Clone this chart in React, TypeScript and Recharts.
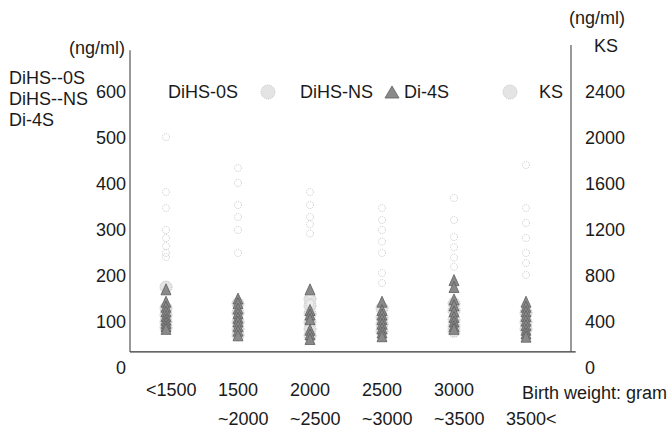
import { ScatterChart, Scatter, XAxis, YAxis, ReferenceLine } from 'recharts'

const FONT = '"Liberation Sans", Arial, Helvetica, sans-serif'
const INK = '#1a1a1a'
const FS = 18

// birth weight groups (gram), printed on two rows under the axis
const weightTop = ['<1500', '1500', '2000', '2500', '3000', '']
const weightBottom = ['', '~2000', '~2500', '~3000', '~3500', '3500<']

const leftTicks = [0, 100, 200, 300, 400, 500, 600]
const rightTicks = [0, 400, 800, 1200, 1600, 2000, 2400]

// ng/ml, one list per weight group
const dihs0s = [
  [176, 130, 115, 100, 88],
  [140, 120, 100, 85, 72],
  [150, 135, 118, 100, 85, 70],
  [130, 110, 95, 80],
  [140, 125, 105, 90, 80],
  [120, 100, 85],
]
const dihsNs = [
  [120, 95],
  [135, 110, 90],
  [160, 140, 95],
  [120, 100, 88],
  [115, 95],
  [110, 90],
]
const di4s = [
  [170, 143, 132, 122, 112, 104, 97, 90, 84],
  [150, 140, 128, 118, 108, 100, 90, 80, 70],
  [170, 125, 115, 105, 82, 72, 62],
  [143, 125, 115, 105, 95, 85, 76, 68],
  [190, 175, 148, 135, 122, 110, 100, 90, 84],
  [143, 132, 122, 112, 102, 92, 82, 74, 67],
]
// KS on the right axis
const ks = [
  [2008, 1530, 1391, 1200, 1130, 1060, 1000, 965],
  [1739, 1609, 1417, 1313, 1200, 1000],
  [1530, 1417, 1313, 1250, 1170],
  [1391, 1287, 1200, 1100, 1000, 826, 739],
  [1478, 1287, 1139, 1050, 960, 880],
  [1765, 1391, 1261, 1130, 1000, 913, 809],
]

const toPoints = (cols: number[][]) =>
  cols.flatMap((vals, i) => vals.map((v) => ({ x: i, y: v })))

const circleShape = (p: any) => (
  <circle cx={p.cx} cy={p.cy} r={6} fill="#e4e4e4" stroke="#bdbdbd" strokeWidth={1} strokeDasharray="1 1" />
)
const smallCircleShape = (p: any) => (
  <circle cx={p.cx} cy={p.cy} r={4} fill="#ececec" stroke="#c6c6c6" strokeWidth={1} strokeDasharray="1 1" />
)
const triangleShape = (p: any) => (
  <path
    d={`M${p.cx},${p.cy - 6} L${p.cx + 5},${p.cy + 5} L${p.cx - 5},${p.cy + 5} Z`}
    fill="#8a8a8a"
    stroke="#5e5e5e"
    strokeWidth={0.8}
  />
)
const ksShape = (p: any) => (
  <circle cx={p.cx} cy={p.cy} r={3.5} fill="none" stroke="#c8c8c8" strokeWidth={1} strokeDasharray="1 1" />
)

function WeightTick(props: any) {
  const { x, payload } = props
  const i = payload.value
  return (
    <g fontFamily={FONT} fontSize={FS} fill={INK}>
      <text x={x - 20} y={396} textAnchor="start">{weightTop[i]}</text>
      <text x={x - 20} y={425} textAnchor="start">{weightBottom[i]}</text>
    </g>
  )
}

function LeftTick(props: any) {
  const { x, y, payload } = props
  return (
    <text x={x} y={y} dy="0.35em" textAnchor="end" fontFamily={FONT} fontSize={FS} fill={INK}>
      {payload.value}
    </text>
  )
}

function RightTick(props: any) {
  const { x, y, payload } = props
  return (
    <text x={x} y={y} dy="0.35em" textAnchor="start" fontFamily={FONT} fontSize={FS} fill={INK}>
      {payload.value}
    </text>
  )
}

export default function App() {
  return (
    <div style={{ position: 'absolute', left: 0, top: 0, width: 668, height: 431, background: '#fff' }}>
      <ScatterChart width={668} height={431} margin={{ top: 46, right: 37, bottom: 33, left: 70 }}>
        <XAxis
          type="number"
          dataKey="x"
          domain={[-0.5, 5.625]}
          ticks={[0, 1, 2, 3, 4, 5]}
          interval={0}
          height={30}
          axisLine={false}
          tickLine={false}
          tick={<WeightTick />}
        />
        <YAxis
          yAxisId="left"
          type="number"
          dataKey="y"
          domain={[0, 700]}
          ticks={leftTicks}
          interval={0}
          width={60}
          axisLine={false}
          tickLine={false}
          tickSize={0}
          tickMargin={4}
          tick={<LeftTick />}
        />
        <YAxis
          yAxisId="right"
          orientation="right"
          type="number"
          dataKey="y"
          domain={[0, 2800]}
          ticks={rightTicks}
          interval={0}
          width={60}
          axisLine={false}
          tickLine={false}
          tickSize={0}
          tickMargin={14}
          tick={<RightTick />}
        />
        {/* frame lines as printed: bottom line sits above the 0 tick */}
        <ReferenceLine
          yAxisId="left"
          segment={[{ x: -0.5, y: 35 }, { x: 5.69, y: 35 }]}
          stroke="#333"
          strokeWidth={1.4}
          ifOverflow="visible"
        />
        <ReferenceLine
          yAxisId="left"
          segment={[{ x: -0.5, y: 35 }, { x: -0.5, y: 691 }]}
          stroke="#555"
          strokeWidth={1.2}
          ifOverflow="visible"
        />
        <ReferenceLine
          yAxisId="left"
          segment={[{ x: 5.625, y: 35 }, { x: 5.625, y: 702 }]}
          stroke="#555"
          strokeWidth={1.2}
          ifOverflow="visible"
        />
        <Scatter yAxisId="left" data={toPoints(dihs0s)} shape={circleShape} isAnimationActive={false} />
        <Scatter yAxisId="left" data={toPoints(dihsNs)} shape={smallCircleShape} isAnimationActive={false} />
        <Scatter yAxisId="left" data={toPoints(di4s)} shape={triangleShape} isAnimationActive={false} />
        <Scatter yAxisId="right" data={toPoints(ks)} shape={ksShape} isAnimationActive={false} />
      </ScatterChart>
      <svg
        width={668}
        height={431}
        style={{ position: 'absolute', left: 0, top: 0, pointerEvents: 'none' }}
        fontFamily={FONT}
        fontSize={FS}
        fill={INK}
      >
        <text x={125} y={48} dy="0.35em" textAnchor="end">(ng/ml)</text>
        <text x={9} y={78} dy="0.35em">DiHS--0S</text>
        <text x={9} y={99} dy="0.35em">DiHS--NS</text>
        <text x={9} y={120} dy="0.35em">Di-4S</text>
        <text x={569} y={18} dy="0.35em">(ng/ml)</text>
        <text x={594} y={46} dy="0.35em">KS</text>
        <text x={522} y={393} dy="0.35em">Birth weight: gram</text>

        <text x={168} y={92} dy="0.35em">DiHS-0S</text>
        <circle cx={268} cy={92} r={7} fill="#e4e4e4" stroke="#c4c4c4" strokeDasharray="1 1" />
        <text x={300} y={92} dy="0.35em">DiHS-NS</text>
        <path d="M392,86 L399,98 L385,98 Z" fill="#8a8a8a" stroke="#5e5e5e" strokeWidth={0.8} />
        <text x={404} y={92} dy="0.35em">Di-4S</text>
        <circle cx={510} cy={92} r={7} fill="#e4e4e4" stroke="#c4c4c4" strokeDasharray="1 1" />
        <text x={539} y={92} dy="0.35em">KS</text>
      </svg>
    </div>
  )
}
